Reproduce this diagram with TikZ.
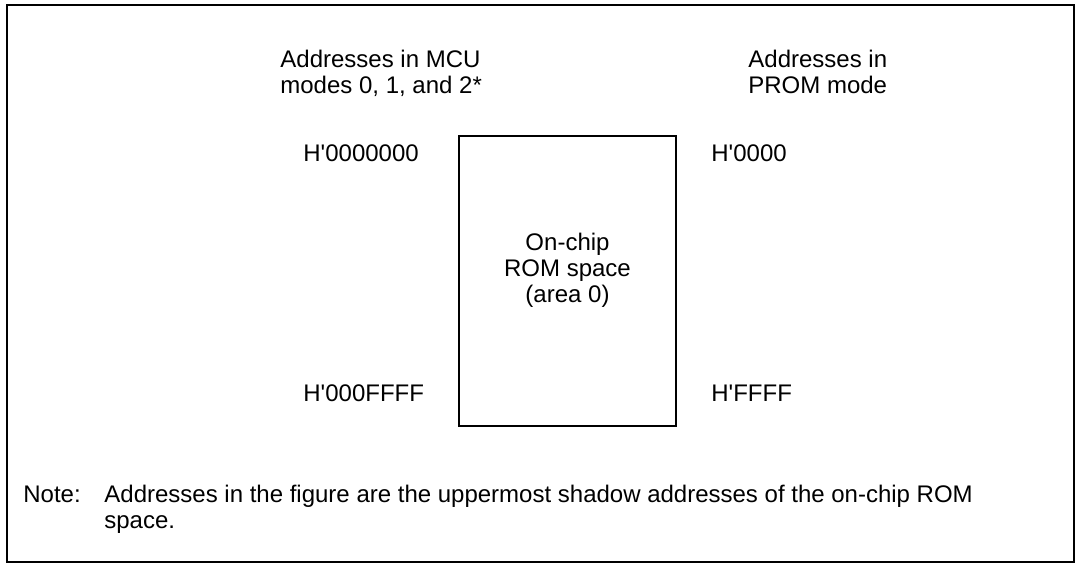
\documentclass[tikz,border=0pt]{standalone}
\usepackage{fontspec}
\setmainfont{Liberation Sans}
\usetikzlibrary{positioning}

\begin{document}
\begin{tikzpicture}[
      x=0.5pt, y=-0.5pt,
      every node/.style={inner sep=0pt, font=\fontsize{12}{13}\selectfont},
      colhead/.style={align=left, anchor=north west},
      addr/.style={anchor=west},
      romblock/.style={
        draw,
        line width=0.8pt,
        minimum width=108.5pt,
        minimum height=145pt
      },
      frame/.style={draw, line width=0.7pt},
  ]
  \useasboundingbox (0,0) rectangle (1080,566);
  \draw[frame] (7,5) rectangle (1074,562);

  % ROM block
  \node[romblock] (rom) at (567.5,281) {};
  \node[align=center] (romtxt) at (567.5,270) {On-chip\\ROM space\\(area 0)};

  % 1. MCU modes
  \node[colhead] (mcuhead) at (280,49.5) {Addresses in MCU\\modes 0, 1, and 2*};
  \node[addr] (mcutop) at (303,153.5) {H\textquotesingle 0000000};
  \node[addr] (mcubot) at (303,393) {H\textquotesingle 000FFFF};

  % 2. PROM mode
  \node[colhead] (promhead) at (748,49.5) {Addresses in\\PROM mode};
  \node[addr] (promtop) at (711,153.5) {H\textquotesingle 0000};
  \node[addr] (prombot) at (711,393) {H\textquotesingle FFFF};

  % Note
  \node[anchor=base west] (notelbl) at (23,502) {Note:};
  \node[colhead] (notetxt) at (104,484.5)
    {Addresses in the figure are the uppermost shadow addresses of the on-chip ROM\\space.};
\end{tikzpicture}
\end{document}
